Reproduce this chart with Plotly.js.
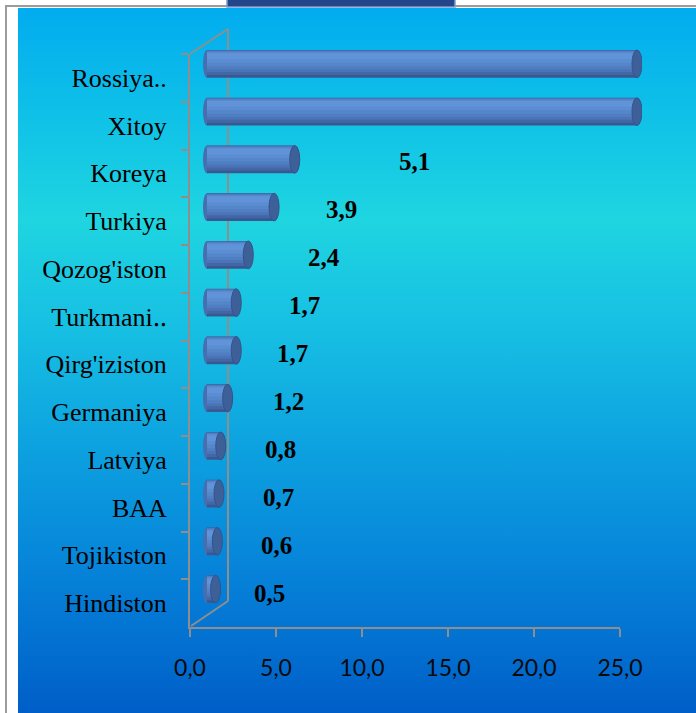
<!DOCTYPE html>
<html>
<head>
<meta charset="utf-8">
<script src="https://cdn.plot.ly/plotly-3.0.1.min.js"></script>
<style>
  html, body { margin: 0; padding: 0; background: #ffffff; }
  #wrap { position: relative; width: 696px; height: 713px; overflow: hidden; background: #ffffff; }
  #frame { position: absolute; left: 5px; top: 5px; right: 0; bottom: 0;
           border-left: 2px solid #9c9c9c; border-top: 2px solid #9c9c9c; }
  #bg { position: absolute; left: 18px; top: 8px; right: 0; bottom: 0;
        background: linear-gradient(to bottom, #02acef 0%, #0ebfe8 14%, #1fd5e0 30%, #17c0e3 45%, #0da2e0 62%, #0683d9 80%, #005ec8 100%); }
  #chart { position: absolute; left: 0; top: 0; width: 696px; height: 713px; }
</style>
</head>
<body>
<div id="wrap">
  <div id="frame"></div>
  <div id="bg"></div>
  <div id="chart"></div>
</div>
<script>
// ---- data ----
const categories = ["Rossiya..", "Xitoy", "Koreya", "Turkiya", "Qozog'iston", "Turkmani‥",
                    "Qirg'iziston", "Germaniya", "Latviya", "BAA", "Tojikiston", "Hindiston"];
const values = [41.2, 38.0, 5.1, 3.9, 2.4, 1.7, 1.7, 1.2, 0.8, 0.7, 0.6, 0.5];
const valueLabels = ["41,2", "38,0", "5,1", "3,9", "2,4", "1,7", "1,7", "1,2", "0,8", "0,7", "0,6", "0,5"];
const tickValues = [0, 5, 10, 15, 20, 25];

// ---- layout geometry (pixels) ----
const W = 696, H = 713;
const ML = 190, MR = 54, MT = 40, MB = 86;
const PW = W - ML - MR, PH = H - MT - MB;
const X = px => (px - ML) / PW;
const Y = py => (H - MB - py) / PH;
const AXIS_MAX = 25;
const PX_PER_UNIT = 17.2;
const BAR_X0 = 207;      // bar origin after 3D shift
const BAR_PAD = 8;       // room left of the bar origin for the rounded end
const BAR_SHIFT_Y = 14;
const CAT_TOP = 54;
const labelX = [26.8, 26.75, 12.05, 7.8, 6.8, 5.65, 4.95, 4.75, 4.3, 4.15, 4.05, 3.65];

const n = categories.length;
const shown = values.map(v => Math.min(v, AXIS_MAX));
const idx = categories.map((c, i) => i);

const layers = [
  {off: -0.29, w: 0.58, c: "#3a5890"},
  {off: -0.285, w: 0.52, c: "#4266a6"},
  {off: -0.28, w: 0.45, c: "#4a74b6"},
  {off: -0.27, w: 0.38, c: "#507ec2"},
  {off: -0.255, w: 0.30, c: "#5586ca"},
  {off: -0.24, w: 0.21, c: "#5a8dd2"},
  {off: -0.22, w: 0.12, c: "#6193d8"}
];

const traces = [];
// invisible trace to host main axes
traces.push({type: "scatter", mode: "markers", x: idx.map(() => 0), y: categories,
  xaxis: "x", yaxis: "y", marker: {opacity: 0}, hoverinfo: "skip", showlegend: false});

layers.forEach(L => {
  traces.push({
    type: "bar", orientation: "h", y: categories, x: shown,
    xaxis: "x2", yaxis: "y2",
    width: idx.map(() => L.w), offset: idx.map(() => L.off),
    marker: {color: L.c, line: {width: 0}},
    hoverinfo: "skip", showlegend: false
  });
});

const shapes = [];
// left rounded ends (below bars)
idx.forEach(i => {
  shapes.push({type: "circle", layer: "below", xref: "x2", yref: "y2",
    xsizemode: "pixel", xanchor: 0, x0: -4, x1: 4,
    y0: i - 0.29, y1: i + 0.29, fillcolor: "#466fb0", line: {width: 0}});
});
// end caps
idx.forEach(i => {
  shapes.push({type: "circle", layer: "above", xref: "x2", yref: "y2",
    xsizemode: "pixel", xanchor: shown[i], x0: -5, x1: 5,
    y0: i - 0.29, y1: i + 0.29, fillcolor: "#3e6099", line: {color: "#34538a", width: 1}});
});
// 3D wall lines
const wallColor = "#8e8e8e";
shapes.push({type: "line", xref: "paper", yref: "paper", x0: X(228), x1: X(228), y0: Y(29), y1: Y(601),
  line: {color: wallColor, width: 2}, layer: "below"});
shapes.push({type: "line", xref: "paper", yref: "paper", x0: X(190), x1: X(228), y0: Y(CAT_TOP), y1: Y(29),
  line: {color: wallColor, width: 2}, layer: "below"});
shapes.push({type: "line", xref: "paper", yref: "paper", x0: X(191), x1: X(228), y0: Y(626), y1: Y(601),
  line: {color: wallColor, width: 2}, layer: "below"});
// top title pill
shapes.push({type: "rect", xref: "paper", yref: "paper", x0: X(227), x1: X(455), y0: Y(7), y1: Y(-2),
  fillcolor: "#23458a", line: {color: "#7d9bd0", width: 1.5}});

const annotations = idx.map(i => ({
  xref: "x2", yref: "y2", x: labelX[i], y: i, text: valueLabels[i], showarrow: false,
  xanchor: "center", yanchor: "middle", yshift: -2 - i * 0.25,
  font: {family: "Liberation Serif, Times New Roman, serif", size: 25, color: "#000000", weight: "bold"}
}));

const layout = {
  width: W, height: H,
  margin: {l: ML, r: MR, t: MT, b: MB, pad: 0},
  paper_bgcolor: "rgba(0,0,0,0)", plot_bgcolor: "rgba(0,0,0,0)",
  separators: ",.",
  barmode: "overlay",
  showlegend: false,
  xaxis: {
    domain: [0, X(620)], range: [0, AXIS_MAX], anchor: "y",
    tickvals: tickValues, tickformat: ".1f",
    showgrid: false, zeroline: false,
    showline: true, linecolor: "#8e8e8e", linewidth: 2,
    ticks: "outside", ticklen: 8, tickwidth: 2, tickcolor: "#8e8e8e",
    ticklabelstandoff: 11,
    tickfont: {family: "Lato, Open Sans, sans-serif", size: 23, color: "#0a0a0a"},
    fixedrange: true
  },
  yaxis: {
    domain: [0, Y(CAT_TOP)], type: "category", categoryorder: "array", categoryarray: categories,
    range: [n - 0.5, -0.5], anchor: "x",
    showgrid: false, zeroline: false,
    showline: true, linecolor: "#8e8e8e", linewidth: 2,
    ticks: "outside", ticklen: 7, tickwidth: 2, tickcolor: "#8e8e8e", tickson: "boundaries",
    ticklabelstandoff: 16,
    tickfont: {family: "Liberation Serif, Times New Roman, serif", size: 26, color: "#000000"},
    fixedrange: true
  },
  xaxis2: {
    domain: [X(BAR_X0 - BAR_PAD), 1],
    range: [-BAR_PAD / PX_PER_UNIT, (W - MR - BAR_X0) / PX_PER_UNIT], anchor: "y2",
    visible: false, showgrid: false, zeroline: false, fixedrange: true
  },
  yaxis2: {
    domain: [Y(H - MB - BAR_SHIFT_Y), Y(CAT_TOP - BAR_SHIFT_Y)], type: "category",
    categoryorder: "array", categoryarray: categories,
    range: [n - 0.5, -0.5], anchor: "x2",
    visible: false, showgrid: false, zeroline: false, fixedrange: true
  },
  shapes: shapes,
  annotations: annotations
};

Plotly.newPlot("chart", traces, layout, {displayModeBar: false, staticPlot: true});
</script>
</body>
</html>
